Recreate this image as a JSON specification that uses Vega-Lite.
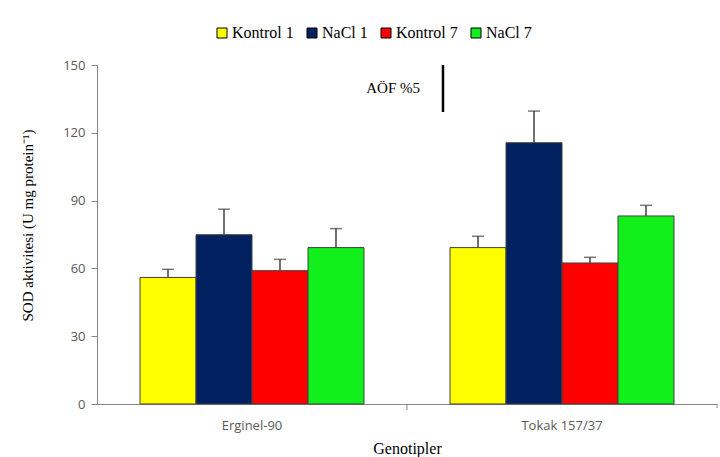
{
  "$schema": "https://vega.github.io/schema/vega-lite/v6.json",
  "width": 620,
  "height": 339,
  "autosize": "none",
  "padding": {"left": 97, "top": 65, "right": 3, "bottom": 53},
  "background": "white",
  "config": {"view": {"stroke": null}},
  "datasets": {
    "bars": [
      {"genotype": "Erginel-90", "treatment": "Kontrol 1", "value": 56.0, "upper": 59.6},
      {"genotype": "Erginel-90", "treatment": "NaCl 1", "value": 74.9, "upper": 86.2},
      {"genotype": "Erginel-90", "treatment": "Kontrol 7", "value": 59.0, "upper": 64.0},
      {"genotype": "Erginel-90", "treatment": "NaCl 7", "value": 69.2, "upper": 77.6},
      {"genotype": "Tokak 157/37", "treatment": "Kontrol 1", "value": 69.2, "upper": 74.2},
      {"genotype": "Tokak 157/37", "treatment": "NaCl 1", "value": 115.6, "upper": 129.6},
      {"genotype": "Tokak 157/37", "treatment": "Kontrol 7", "value": 62.4, "upper": 64.9},
      {"genotype": "Tokak 157/37", "treatment": "NaCl 7", "value": 83.2, "upper": 87.9}
    ],
    "lsd": [
      {"genotype": "Tokak 157/37", "low": 129.2, "high": 150, "label": "AÖF %5", "ty": 139.8}
    ],
    "ticks": [
      {"genotype": "Tokak 157/37"}
    ]
  },
  "layer": [
    {
      "data": {"name": "bars"},
      "mark": {"type": "bar", "stroke": "#404040", "strokeWidth": 1},
      "encoding": {
        "x": {
          "field": "genotype", "type": "nominal", "sort": ["Erginel-90", "Tokak 157/37"],
          "scale": {"paddingInner": 0, "paddingOuter": 0},
          "axis": {
            "title": "Genotipler", "titleFont": "Liberation Serif", "titleFontSize": 16,
            "titleFontWeight": "normal", "titleColor": "black", "titlePadding": 8,
            "labelFont": "Open Sans", "labelFontSize": 13, "labelColor": "#595959",
            "labelAngle": 0, "labelPadding": 15, "ticks": false,
            "domainColor": "#868686", "domainWidth": 1
          }
        },
        "xOffset": {
          "field": "treatment", "type": "nominal",
          "sort": ["Kontrol 1", "NaCl 1", "Kontrol 7", "NaCl 7"],
          "scale": {"paddingInner": 0, "paddingOuter": 0.768}
        },
        "y": {
          "field": "value", "type": "quantitative",
          "scale": {"domain": [0, 150], "nice": false},
          "axis": {
            "title": "SOD aktivitesi (U mg protein⁻¹)", "titleFont": "Liberation Serif",
            "titleFontSize": 15, "titleFontWeight": "normal", "titleColor": "black",
            "titlePadding": 27, "titleY": 160,
            "values": [0, 30, 60, 90, 120, 150], "grid": false,
            "labelFont": "Open Sans", "labelFontSize": 13, "labelColor": "#595959",
            "labelPadding": 6, "tickSize": 6, "tickColor": "#868686",
            "domainColor": "#868686"
          }
        },
        "color": {
          "field": "treatment", "type": "nominal",
          "scale": {
            "domain": ["Kontrol 1", "NaCl 1", "Kontrol 7", "NaCl 7"],
            "range": ["#FFFF00", "#002060", "#FF0000", "#12F01C"]
          },
          "legend": {
            "title": null, "orient": "none", "direction": "horizontal",
            "legendX": 117, "legendY": -40,
            "symbolType": "square", "symbolSize": 100,
            "symbolStrokeColor": "black", "symbolStrokeWidth": 1, "symbolOpacity": 1,
            "labelFont": "Liberation Serif", "labelFontSize": 16, "labelColor": "black",
            "labelOffset": 2, "columnPadding": 10
          }
        }
      }
    },
    {
      "data": {"name": "bars"},
      "mark": {"type": "rule", "color": "#404040", "strokeWidth": 1.5},
      "encoding": {
        "x": {"field": "genotype", "type": "nominal"},
        "xOffset": {"field": "treatment", "type": "nominal", "sort": ["Kontrol 1", "NaCl 1", "Kontrol 7", "NaCl 7"]},
        "y": {"field": "value", "type": "quantitative"},
        "y2": {"field": "upper"}
      }
    },
    {
      "data": {"name": "bars"},
      "mark": {"type": "tick", "color": "#404040", "thickness": 1.5, "size": 12},
      "encoding": {
        "x": {"field": "genotype", "type": "nominal"},
        "xOffset": {"field": "treatment", "type": "nominal", "sort": ["Kontrol 1", "NaCl 1", "Kontrol 7", "NaCl 7"]},
        "y": {"field": "upper", "type": "quantitative"}
      }
    },
    {
      "data": {"name": "lsd"},
      "mark": {"type": "rule", "color": "black", "strokeWidth": 2.5, "xOffset": 36},
      "encoding": {
        "x": {"field": "genotype", "type": "nominal", "bandPosition": 0},
        "y": {"field": "low", "type": "quantitative"},
        "y2": {"field": "high"}
      }
    },
    {
      "data": {"name": "lsd"},
      "mark": {"type": "text", "align": "right", "baseline": "middle", "xOffset": 13,
               "font": "Liberation Serif", "fontSize": 15, "color": "black"},
      "encoding": {
        "x": {"field": "genotype", "type": "nominal", "bandPosition": 0},
        "y": {"field": "ty", "type": "quantitative"},
        "text": {"field": "label"}
      }
    },
    {
      "data": {"name": "ticks"},
      "mark": {"type": "rule", "color": "#868686", "strokeWidth": 1, "y2Offset": 6},
      "encoding": {
        "x": {"field": "genotype", "type": "nominal", "bandPosition": 0},
        "y": {"datum": 0},
        "y2": {"datum": 0}
      }
    },
    {
      "data": {"name": "ticks"},
      "mark": {"type": "rule", "color": "#868686", "strokeWidth": 1, "y2Offset": 4},
      "encoding": {
        "x": {"field": "genotype", "type": "nominal", "bandPosition": 1},
        "y": {"datum": 0},
        "y2": {"datum": 0}
      }
    }
  ]
}
